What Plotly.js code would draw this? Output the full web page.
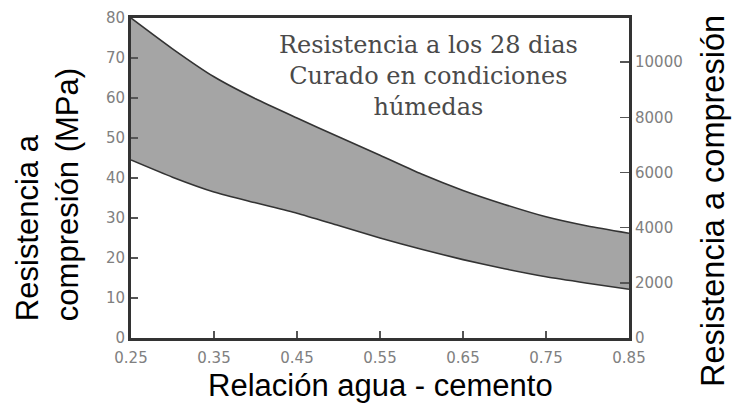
<!DOCTYPE html>
<html>
<head>
<meta charset="utf-8">
<script src="https://cdn.plot.ly/plotly-3.0.1.min.js"></script>
<style>html,body{margin:0;padding:0;background:#fff;}#chart{width:738px;height:407px;}</style>
</head>
<body>
<div id="chart"></div>
<script>
// Relación agua - cemento
const wcRatio = [0.25, 0.30, 0.35, 0.40, 0.45, 0.50, 0.55, 0.60, 0.65, 0.70, 0.75, 0.80, 0.85];
// Upper and lower bounds of 28-day compressive strength (MPa)
const upperMPa = [80, 72.3, 65.3, 59.8, 55, 50.3, 45.7, 41, 36.9, 33.4, 30.3, 28, 26.2];
const lowerMPa = [44.5, 40.2, 36.5, 33.8, 31.2, 28.1, 25, 22.2, 19.6, 17.3, 15.3, 13.7, 12.2];
const xTicks = [0.25, 0.35, 0.45, 0.55, 0.65, 0.75, 0.85];
const xTickText = ["0.25", "0.35", "0.45", "0.55", "0.65", "0.75", "0.85"];
const yTicksMPa = [0, 10, 20, 30, 40, 50, 60, 70, 80];
const yTicksPsi = [0, 2000, 4000, 6000, 8000, 10000];
const yTickTextPsi = ["0", "2000", "4000", "6000", "8000", "10000"];
const psiPerMPa = 145.038;

const lineCol = '#333333';
const tickFont = {family: 'DejaVu Sans', size: 15, color: '#808080'};

const traces = [
  {x: wcRatio, y: lowerMPa, mode: 'lines', line: {color: lineCol, width: 1.6, shape: 'spline', smoothing: 0.6}, hoverinfo: 'skip', showlegend: false},
  {x: wcRatio, y: upperMPa, mode: 'lines', fill: 'tonexty', fillcolor: '#a5a5a5', line: {color: lineCol, width: 1.6, shape: 'spline', smoothing: 0.6}, hoverinfo: 'skip', showlegend: false},
  {x: [wcRatio[0]], y: [0], yaxis: 'y2', mode: 'markers', marker: {opacity: 0}, hoverinfo: 'skip', showlegend: false}
];

const layout = {
  width: 738, height: 407,
  margin: {l: 131, r: 109, t: 18, b: 69},
  paper_bgcolor: '#ffffff', plot_bgcolor: '#ffffff',
  showlegend: false,
  xaxis: {
    range: [0.25, 0.85], tickvals: xTicks, ticktext: xTickText,
    ticks: 'inside', ticklen: 7, tickwidth: 1.5, tickcolor: '#555',
    showline: true, linewidth: 3, linecolor: lineCol, mirror: true,
    showgrid: false, zeroline: false, tickfont: tickFont, ticklabelstandoff: 4
  },
  yaxis: {
    range: [0, 80], tickvals: yTicksMPa,
    ticks: 'inside', ticklen: 7, tickwidth: 1.5, tickcolor: '#555',
    showline: true, linewidth: 3, linecolor: lineCol,
    showgrid: false, zeroline: false, tickfont: tickFont
  },
  yaxis2: {
    overlaying: 'y', side: 'right',
    range: [0, 80 * psiPerMPa], tickvals: yTicksPsi, ticktext: yTickTextPsi,
    ticks: 'inside', ticklen: 9, tickwidth: 1.5, tickcolor: '#555',
    showline: true, linewidth: 3, linecolor: lineCol,
    showgrid: false, zeroline: false, tickfont: tickFont
  },
  annotations: [
    {xref: 'paper', yref: 'paper', x: 0.598, y: 0.82, xanchor: 'center', yanchor: 'middle', showarrow: false, align: 'center',
     text: 'Resistencia a los 28 dias<br>Curado en condiciones<br>húmedas',
     font: {family: 'DejaVu Serif', size: 24, color: '#4a4a4a'}},
    {xref: 'paper', yref: 'paper', x: 0.502, y: -0.147, xanchor: 'center', yanchor: 'middle', showarrow: false,
     text: 'Relación agua - cemento', font: {family: 'Liberation Sans', size: 31, color: '#000'}},
    {xref: 'paper', yref: 'paper', x: -0.1677, y: 0.448, xanchor: 'center', yanchor: 'middle', showarrow: false, textangle: -90, align: 'left',
     text: 'Resistencia a<br>compresión (MPa)', font: {family: 'Liberation Sans', size: 31, color: '#000'}},
    {xref: 'paper', yref: 'paper', x: 1.1687, y: 0.428, xanchor: 'center', yanchor: 'middle', showarrow: false, textangle: -90,
     text: 'Resistencia a compresión', font: {family: 'Liberation Sans', size: 32.5, color: '#000'}}
  ]
};

Plotly.newPlot('chart', traces, layout, {staticPlot: true, displayModeBar: false});
</script>
</body>
</html>
